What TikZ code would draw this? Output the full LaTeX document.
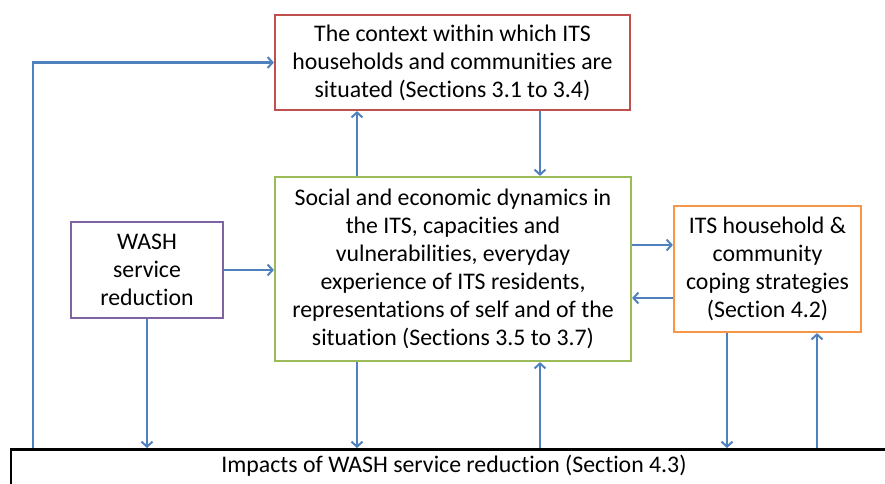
\documentclass[tikz,border=0pt]{standalone}
\usepackage{fontspec}
\setmainfont{Carlito}[Ligatures=NoCommon]
\usetikzlibrary{arrows.meta}
\definecolor{flowblue}{RGB}{79,129,189}
\definecolor{ctxred}{RGB}{192,80,77}
\definecolor{dynGreen}{RGB}{155,187,89}
\definecolor{washpurple}{RGB}{128,100,162}
\definecolor{copeorange}{RGB}{247,150,70}
\tikzset{
  box/.style={draw,line width=2.2pt,align=center,inner sep=0pt,
    font=\fontsize{23.8}{28}\selectfont},
  flow/.style={draw=flowblue,line width=2.2pt,
    -{Straight Barb[length=5pt,width=11pt,line width=2pt]}}
}
\begin{document}
\begin{tikzpicture}[x=1pt,y=-1pt]
    \useasboundingbox (0,0) rectangle (885,483);
    \clip (0,0) rectangle (885,483);

    % x positions of the vertical connectors
    \def\xloop{33}     % outer feedback line on the left
    \def\xwash{147}    % WASH box down to impacts
    \def\xup{357}      % dynamics up to context / dynamics down to impacts
    \def\xdown{540}    % context down to dynamics / impacts up to dynamics
    \def\xcopedown{727}
    \def\xcopeup{817}

    % -- Boxes --
    \node[box,draw=ctxred,minimum width=355pt,minimum height=95pt]
      (context) at (452.5,62.5)
      {The context within which ITS\\households and communities are\\situated (Sections 3.1 to 3.4)};
    \node[box,draw=dynGreen,minimum width=356pt,minimum height=184pt]
      (dyn) at (453,269)
      {Social and economic dynamics in\\the ITS, capacities and\\vulnerabilities, everyday\\experience of ITS residents,\\representations of self and of the\\situation (Sections 3.5 to 3.7)};
    \node[box,draw=washpurple,minimum width=152pt,minimum height=96pt]
      (wash) at (147,270)
      {WASH\\service\\reduction};
    \node[box,draw=copeorange,minimum width=187pt,minimum height=126pt]
      (coping) at (767.5,269)
      {ITS household \&\\community\\coping strategies\\(Section 4.2)};
    % bottom box runs out of the picture on the right and below
    \node[box,draw=black,line width=2.6pt,anchor=north,minimum width=886pt,
      inner ysep=1pt,text height=22pt,text depth=40pt]
      (impacts) at (454,448)
      {Impacts of WASH service reduction (Section 4.3)};

    % -- Helper coordinates for the connectors --
    \coordinate (cloop) at (\xloop,0);
    \coordinate (cwash) at (\xwash,0);
    \coordinate (cup) at (\xup,0);
    \coordinate (cdown) at (\xdown,0);
    \coordinate (ccdown) at (\xcopedown,0);
    \coordinate (ccup) at (\xcopeup,0);
    \coordinate (yout) at (0,245);
    \coordinate (yback) at (0,298);

    % -- Connectors --
    \draw[flow] (impacts.north -| cloop) |- (context.west);
    \draw[flow] (dyn.north -| cup) -- (context.south -| cup);
    \draw[flow] (context.south -| cdown) -- (dyn.north -| cdown);
    \draw[flow] (wash.east) -- (wash.east -| dyn.west);
    \draw[flow] (dyn.east |- yout) -- (coping.west |- yout);
    \draw[flow] (coping.west |- yback) -- (dyn.east |- yback);
    \draw[flow] (wash.south) -- (impacts.north -| cwash);
    \draw[flow] (dyn.south -| cup) -- (impacts.north -| cup);
    \draw[flow] (impacts.north -| cdown) -- (dyn.south -| cdown);
    \draw[flow] (coping.south -| ccdown) -- (impacts.north -| ccdown);
    \draw[flow] (impacts.north -| ccup) -- (coping.south -| ccup);

\end{tikzpicture}
\end{document}
